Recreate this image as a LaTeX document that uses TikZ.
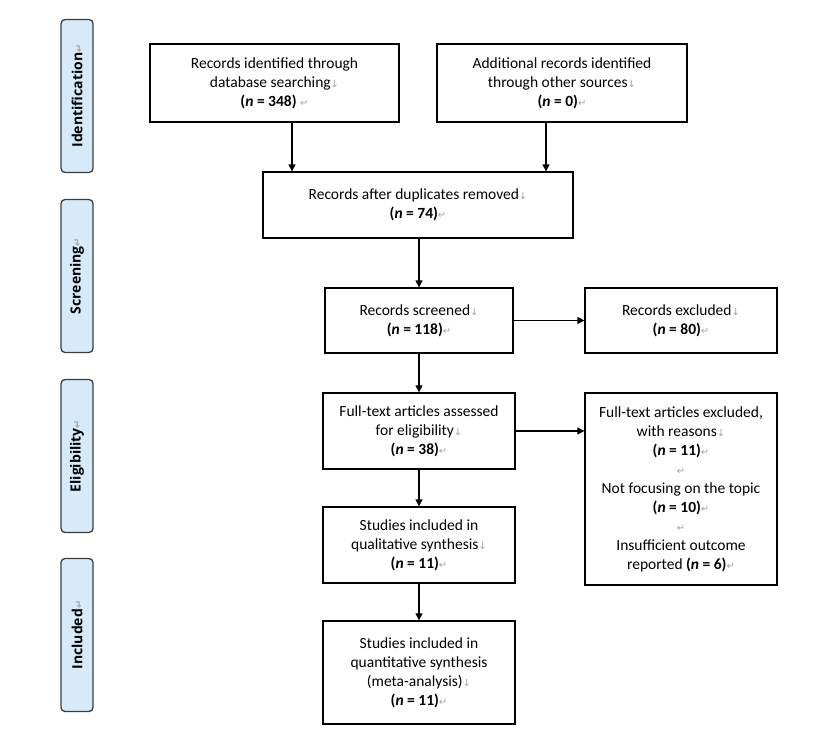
\documentclass[tikz,border=0pt]{standalone}
\usepackage{fontspec}
\setmainfont{Carlito}
\newfontfamily\barfont{Open Sans}
\newfontfamily\markfont{DejaVu Sans}
\usetikzlibrary{arrows.meta}
\definecolor{barblue}{RGB}{214,234,250}
\definecolor{edgegray}{RGB}{60,60,60}
\definecolor{markgray}{RGB}{165,165,165}
\newcommand\lbr{{\markfont\fontsize{10}{10}\selectfont\textcolor{markgray}{↓}}}
\newcommand\pmk{{\markfont\fontsize{10}{10}\selectfont\textcolor{markgray}{↵}}}
\newcommand\nn[1]{\textbf{(\textit{n} = #1)}}
\begin{document}
\begin{tikzpicture}[x=1pt,y=-1pt,
  box/.style={draw=black, line width=1.3pt, align=center, inner sep=0pt,
    font=\fontsize{15.5}{19}\selectfont},
  bar/.style={draw=edgegray, fill=barblue, line width=1.3pt, rounded corners=4pt,
    rotate=90, minimum width=153pt, minimum height=32pt, inner sep=0pt,
    font=\barfont\bfseries\fontsize{14}{16}\selectfont},
  arr/.style={line width=1.3pt, -{Triangle[length=7pt,width=7pt]}}]
\useasboundingbox (0,0) rectangle (837,741);
% phase bars
\node[bar] (s1) at (77,96) {Identification\pmk};
\node[bar] (s2) at (77,276) {Screening\pmk};
\node[bar] (s3) at (77,456) {Eligibility\pmk};
\node[bar] (s4) at (77,635) {Included\pmk};
% boxes
\node[box, minimum width=249pt, minimum height=78pt] (b1) at (274.5,83)
  {Records identified through\\ database searching\lbr\\ \nn{348} \pmk};
\node[box, minimum width=250pt, minimum height=78pt] (b2) at (562,83)
  {Additional records identified\\ through other sources\lbr\\ \nn{0}\pmk};
\node[box, minimum width=310pt, minimum height=66pt] (b3) at (418,205)
  {Records after duplicates removed\lbr\\ \nn{74}\pmk};
\node[box, minimum width=188pt, minimum height=65pt] (b4) at (419,320.5)
  {Records screened\lbr\\ \nn{118}\pmk};
\node[box, minimum width=192pt, minimum height=65pt] (b5) at (681,320.5)
  {Records excluded\lbr\\ \nn{80}\pmk};
\node[box, minimum width=192pt, minimum height=76pt] (b6) at (419,431)
  {Full-text articles assessed\\ for eligibility\lbr\\ \nn{38}\pmk};
\node[box, minimum width=192pt, minimum height=192pt] (b7) at (681,489)
  {Full-text articles excluded,\\ with reasons\lbr\\ \nn{11}\pmk\\ \pmk\\
   Not focusing on the topic\\ \nn{10}\pmk\\ \pmk\\
   Insufficient outcome\\ reported \nn{6}\pmk};
\node[box, minimum width=192pt, minimum height=76pt] (b8) at (419,545)
  {Studies included in\\ qualitative synthesis\lbr\\ \nn{11}\pmk};
\node[box, minimum width=192pt, minimum height=103pt] (b9) at (419,672.5)
  {Studies included in\\ quantitative synthesis\\ (meta-analysis)\lbr\\ \nn{11}\pmk};
% connectors
\coordinate (x1) at (292,0);
\coordinate (x2) at (546,0);
\draw[arr] (b1.south -| x1) -- (b3.north -| x1);
\draw[arr] (b2.south -| x2) -- (b3.north -| x2);
\draw[arr] (b3.south -| b4.north) -- (b4.north);
\draw[arr] (b4.east) -- (b4.east -| b5.west);
\draw[arr] (b4.south) -- (b6.north);
\draw[arr] (b6.east) -- (b6.east -| b7.west);
\draw[arr] (b6.south) -- (b8.north);
\draw[arr] (b8.south) -- (b9.north);
\end{tikzpicture}
\end{document}
